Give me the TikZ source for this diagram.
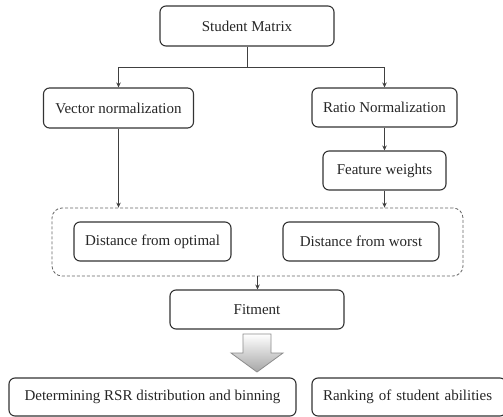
\documentclass[tikz,border=0pt]{standalone}
\usepackage{fontspec}
\setmainfont{Liberation Serif}
\usetikzlibrary{arrows.meta,calc}
\begin{document}
\begin{tikzpicture}[x=1pt,y=-1pt,
  box/.style={draw=black!80,line width=1.1pt,rounded corners=6pt,inner sep=0pt,
    font=\fontsize{15}{18}\selectfont,text=black!85},
  conn/.style={draw=black!75,line width=0.9pt},
  arr/.style={conn,-{Stealth[length=5pt,width=4.5pt]}},
  grp/.style={draw=black!60,dashed,line width=0.8pt,rounded corners=10pt,
    dash pattern=on 3pt off 2pt}]
\useasboundingbox (0,0) rectangle (503,417);
\clip (0,0) rectangle (503,417);
\node[box,minimum width=174pt,minimum height=40pt] (sm) at (247,26) {Student Matrix};
\node[box,minimum width=150pt,minimum height=40pt] (vn) at (118.5,108) {Vector normalization};
\node[box,minimum width=145pt,minimum height=39pt] (rn) at (384.5,107.5) {Ratio Normalization};
\node[box,minimum width=123pt,minimum height=39pt] (fw) at (384.5,170.5) {Feature weights};
\node[grp,minimum width=411pt,minimum height=68pt] (g) at (257.5,242) {};
\node[box,minimum width=157pt,minimum height=39pt] (dopt) at (152.5,241.5) {Distance from optimal};
\node[box,minimum width=156pt,minimum height=39pt] (dw) at (361,241.5) {Distance from worst};
\node[box,minimum width=174pt,minimum height=39pt] (fit) at (257,309.5) {Fitment};
\node[box,minimum width=287pt,minimum height=38pt] (det) at (152.5,397) {Determining RSR distribution and binning};
\node[box,minimum width=194pt,minimum height=38pt,text width=194pt,align=left] (rk) at (409,397) {\hspace{11pt}Ranking of student abilities};
\coordinate (j) at ($(sm.south)+(0,21)$);
\draw[conn] (sm.south) -- (j);
\draw[arr] (j) -| (vn.north);
\draw[arr] (j) -| (rn.north);
\draw[arr] (rn.south) -- (fw.north);
\draw[arr] (vn.south) -- (vn.south |- g.north);
\draw[arr] (fw.south) -- (fw.south |- g.north);
\draw[arr] (g.south) -- (g.south |- fit.north);
\draw[draw=black!45,line width=0.8pt,top color=white,bottom color=black!35]
  (243,334) -- (271,334) -- (271,353) -- (283,353) -- (257,372) -- (231,353) -- (243,353) -- cycle;
\end{tikzpicture}
\end{document}
